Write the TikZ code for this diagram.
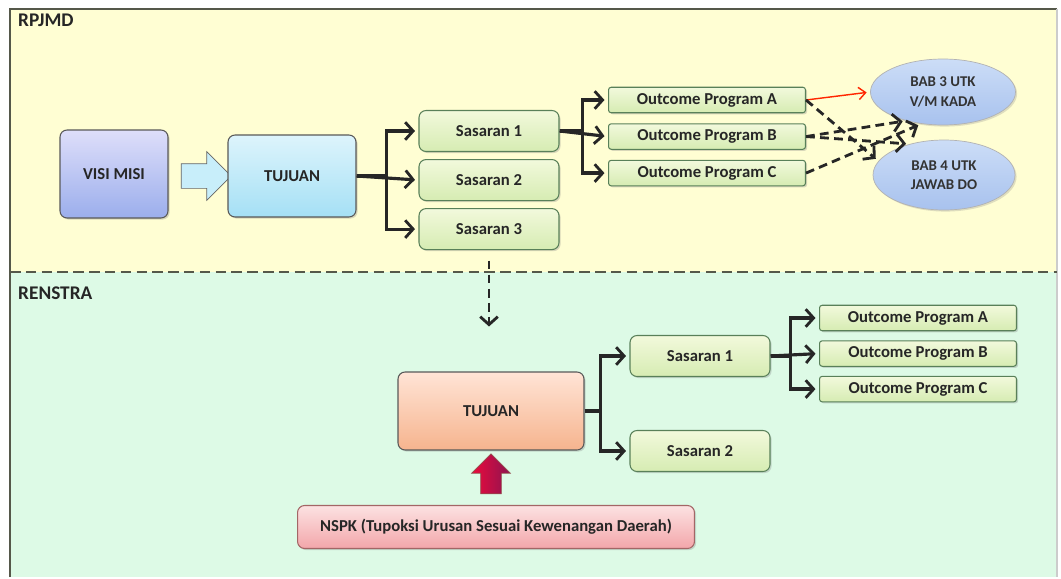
\documentclass[tikz,border=0pt]{standalone}
\usepackage{fontspec}
\setmainfont{Carlito}
\usetikzlibrary{shapes,arrows.meta,positioning,shadows}

\definecolor{rpjmdbg}{HTML}{FFFED3}
\definecolor{renstrabg}{HTML}{DDFAE6}
\definecolor{frameline}{HTML}{55584A}

\begin{document}
\begin{tikzpicture}[x=0.02cm, y=-0.02cm]
    % Define Styles
        \tikzstyle{block} = [
            rectangle,
            draw = black!65,
            rounded corners = 4pt,
            align = center,
            line width = 0.6pt,
            text = black!85,
            font = \bfseries\fontsize{9.5}{11}\selectfont,
            drop shadow = {opacity=0.3, shadow xshift=0.9pt, shadow yshift=-0.9pt}
        ]
        \tikzstyle{sasaran} = [
            block,
            draw = black!50!green!30!gray,
            top color = {rgb,255:red,242;green,249;blue,220},
            bottom color = {rgb,255:red,214;green,236;blue,178},
            minimum width = 2.8cm,
            minimum height = 0.82cm
        ]
        \tikzstyle{outcome} = [
            sasaran,
            rounded corners = 1.5pt,
            minimum width = 3.94cm,
            minimum height = 0.46cm
        ]
        \tikzstyle{bab} = [
            ellipse,
            draw = black!30,
            align = center,
            top color = {rgb,255:red,204;green,221;blue,247},
            bottom color = {rgb,255:red,168;green,194;blue,238},
            text = black!80,
            font = \bfseries\fontsize{8.5}{11}\selectfont,
            drop shadow = {opacity=0.25, shadow xshift=0.9pt, shadow yshift=-0.9pt}
        ]
        \tikzstyle{line} = [
            draw,
            line width = 1.8pt,
            black!85,
            shorten >= 2pt,
            -{Straight Barb[length=4.5pt, width=10pt, line width=1.6pt]}
        ]
        \tikzstyle{dline} = [
            line,
            line width = 1.6pt,
            dash pattern = on 5pt off 3pt
        ]
    % Background panels
        \fill [white] (0,0) rectangle (1061,577);
        \fill [rpjmdbg] (10,9) rectangle (1057,272);
        \fill [renstrabg] (10,272) rectangle (1057,577);
        \draw [frameline, line width=1.4pt] (10,577) -- (10,9) -- (1057,9);
        \draw [black!20, line width=0.6pt] (1057,9) -- (1057,577);
        \draw [frameline, line width=1.3pt, dash pattern=on 6pt off 3pt] (10,272) -- (1057,272);
        \node [anchor=west, font=\bfseries\fontsize{11}{13}\selectfont, text=black!85] (rpjmd) at (12,20) {RPJMD};
        \node [anchor=west, font=\bfseries\fontsize{11}{13}\selectfont, text=black!85] (renstra) at (12,293) {RENSTRA};
    % Place nodes
        \node [block, top color={rgb,255:red,222;green,222;blue,250}, bottom color={rgb,255:red,155;green,174;blue,236},
               minimum width=2.16cm, minimum height=1.76cm] (vm) at (114,174) {VISI MISI};
        \node [single arrow, draw=black!60, fill={rgb,255:red,200;green,238;blue,250}, inner sep=0pt,
               minimum height=1.0cm, single arrow head extend=0.24cm] (va) at (200,176) {\rule{0pt}{0.48cm}};
        \node [block, top color={rgb,255:red,221;green,244;blue,252}, bottom color={rgb,255:red,165;green,224;blue,245},
               minimum width=2.56cm, minimum height=1.64cm] (tj) at (292,176) {TUJUAN};
        \node [sasaran] (s1) at (489,131) {Sasaran 1};
        \node [sasaran, below = 0.14cm of s1] (s2) {Sasaran 2};
        \node [sasaran, below = 0.14cm of s2] (s3) {Sasaran 3};
        \node [outcome] (oa) at (707,100) {Outcome Program A};
        \node [outcome, below = 0.2cm of oa] (ob) {Outcome Program B};
        \node [outcome, below = 0.2cm of ob] (oc) {Outcome Program C};
        \node [bab, minimum width=2.9cm, minimum height=1.32cm] (bab3) at (943,92) {BAB 3 UTK\\V/M KADA};
        \node [bab, minimum width=2.84cm, minimum height=1.4cm] (bab4) at (944,175) {BAB 4 UTK\\JAWAB DO};
        \coordinate (down) at (489,330);
        \node [block, top color={rgb,255:red,255;green,228;blue,214}, bottom color={rgb,255:red,246;green,180;blue,142},
               minimum width=3.72cm, minimum height=1.56cm] (rtj) at (491,411) {TUJUAN};
        \node [sasaran] (rs1) at (700,356) {Sasaran 1};
        \node [sasaran] (rs2) at (700,451) {Sasaran 2};
        \node [outcome] (roa) at (918,318) {Outcome Program A};
        \node [outcome, below = 0.18cm of roa] (rob) {Outcome Program B};
        \node [outcome, below = 0.18cm of rob] (roc) {Outcome Program C};
        \node [block, top color={rgb,255:red,252;green,226;blue,226}, bottom color={rgb,255:red,243;green,166;blue,170},
               draw=red!40!black!60, text=black!85,
               minimum width=7.94cm, minimum height=0.86cm] (nspk) at (496,527)
            {NSPK (Tupoksi Urusan Sesuai Kewenangan Daerah)};
        \node [single arrow, rotate=90, draw=red!40!black!70,
               left color={rgb,255:red,236;green,10;blue,60}, right color={rgb,255:red,140;green,20;blue,80},
               inner sep=0pt, minimum height=0.8cm,
               single arrow head extend=0.18cm] (ua) at (491,479) {\rule{0pt}{0.4cm}};
    % Draw edges
        \path [line] (tj.east) -- ++(30,0) |- (s1.west);
        \path [line] (tj.east) -- (s2.west);
        \path [line] (tj.east) -- ++(30,0) |- (s3.west);
        \path [line] (s1.east) -- ++(23,0) |- (oa.west);
        \path [line] (s1.east) -- (ob.west);
        \path [line] (s1.east) -- ++(23,0) |- (oc.west);
        \draw [red!70!orange, line width=0.8pt, shorten >=2pt,
               -{Straight Barb[length=4pt, width=7pt]}] (oa.east) -- (bab3.west);
        \path [dline] (oa.east) -- (bab4.168);
        \path [dline] (ob.east) -- (bab3.218);
        \path [dline] (ob.east) -- (bab4.138);
        \path [dline] (oc.east) -- (bab3.236);
        \path [dline, shorten <=6pt] (s3.south) -- (down);
        \path [line] (rtj.east) -- ++(16,0) |- (rs1.west);
        \path [line] (rtj.east) -- ++(16,0) |- (rs2.west);
        \path [line] (rs1.east) -- ++(20,0) |- (roa.west);
        \path [line] (rs1.east) -- (rob.west);
        \path [line] (rs1.east) -- ++(20,0) |- (roc.west);
\end{tikzpicture}
\end{document}
